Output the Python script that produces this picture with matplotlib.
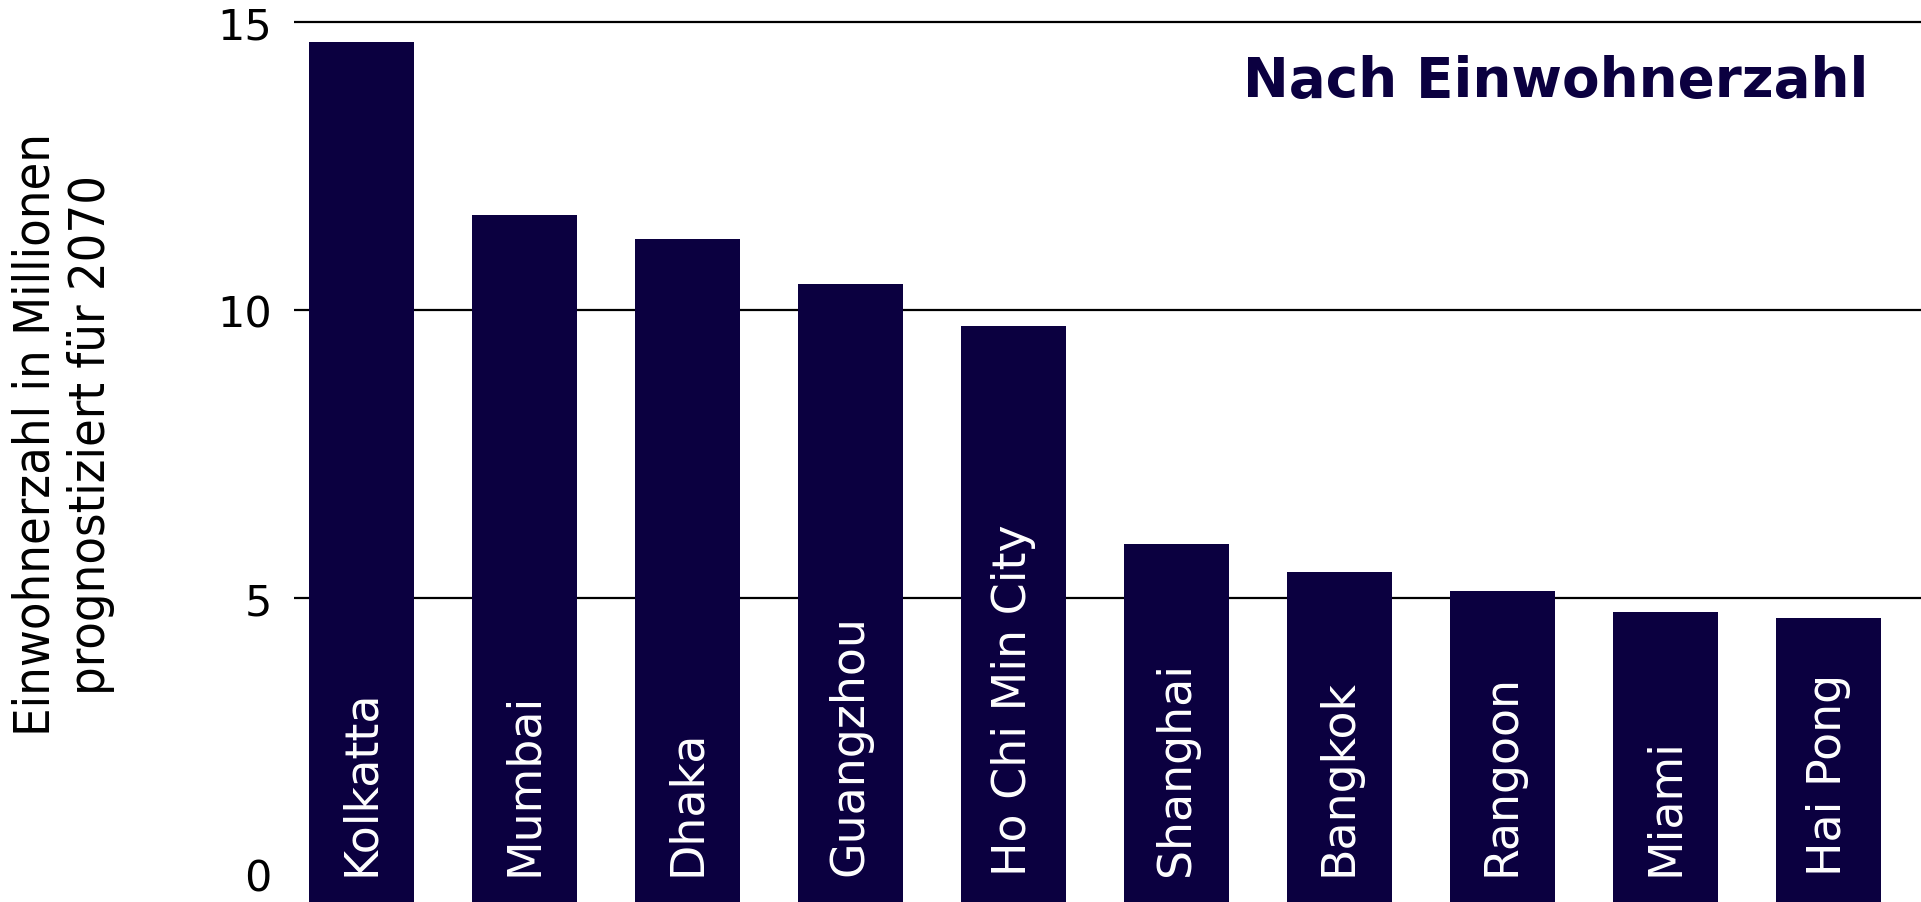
import numpy as np
import matplotlib
matplotlib.use("Agg")
import matplotlib.pyplot as plt
from matplotlib.transforms import offset_copy

cities = ["Kolkatta", "Mumbai", "Dhaka", "Guangzhou", "Ho Chi Min City",
          "Shanghai", "Bangkok", "Rangoon", "Miami", "Hai Pong"]
population = [14.66, 11.66, 11.23, 10.45, 9.72, 5.95, 5.45, 5.13, 4.77, 4.66]
y_ticks = [0, 5, 10, 15]
title = "Nach Einwohnerzahl"
y_label = "Einwohnerzahl in Millionen\nprognostiziert für 2070"

NAVY = "#0b0040"
W, H = 1921, 903


def fit_width(fig, txt, target_px, horizontal=True):
    # scale font size so the drawn text has the wanted length
    r = fig.canvas.get_renderer()
    for _ in range(3):
        bb = txt.get_window_extent(renderer=r)
        size = bb.width if horizontal else bb.height
        txt.set_fontsize(txt.get_fontsize() * target_px / size)


fig = plt.figure(figsize=(W / 100, H / 100), dpi=100)
ax = fig.add_axes([294 / W, 0, 1 - 294 / W, 1])

y_min, y_max = -0.27, 15.4
x = np.arange(len(cities))
ax.bar(x, np.array(population) - y_min, bottom=y_min, width=0.642,
       color=NAVY, zorder=3)

ax.set_xlim(-0.413, 9.568)
ax.set_ylim(y_min, y_max)
ax.set_yticks(y_ticks)
ax.set_yticklabels([str(t) for t in y_ticks], fontsize=31, color="black")
ax.tick_params(axis="y", length=0, pad=16)
ax.set_xticks([])
for s in ax.spines.values():
    s.set_visible(False)
for t in y_ticks[1:]:
    ax.axhline(t, color="black", lw=1.6, zorder=1)

# the "0" sits a little higher in the original so it is not cut off
lbl0 = ax.get_yticklabels()[0]
fig.canvas.draw()
for lbl in ax.get_yticklabels():
    if lbl.get_text() == "0":
        lbl.set_transform(offset_copy(lbl.get_transform(), fig=fig, x=0, y=12, units="dots"))

for xi, name in zip(x, cities):
    ax.text(xi, 0.2, name, rotation=90, ha="center", va="bottom",
            color="white", fontsize=33, zorder=4)

t = fig.text(1868 / W, 1 - 82 / H, title, ha="right", va="center",
             fontsize=40, fontweight="bold", color=NAVY)
fit_width(fig, t, 625)

yl = fig.text(63 / W, 1 - 435 / H, y_label, rotation=90, ha="center",
              va="center", multialignment="center", fontsize=30,
              family="DejaVu Sans", stretch="condensed", color="black",
              linespacing=1.2)
fit_width(fig, yl, 603, horizontal=False)

fig.savefig("out.png", dpi=100)
